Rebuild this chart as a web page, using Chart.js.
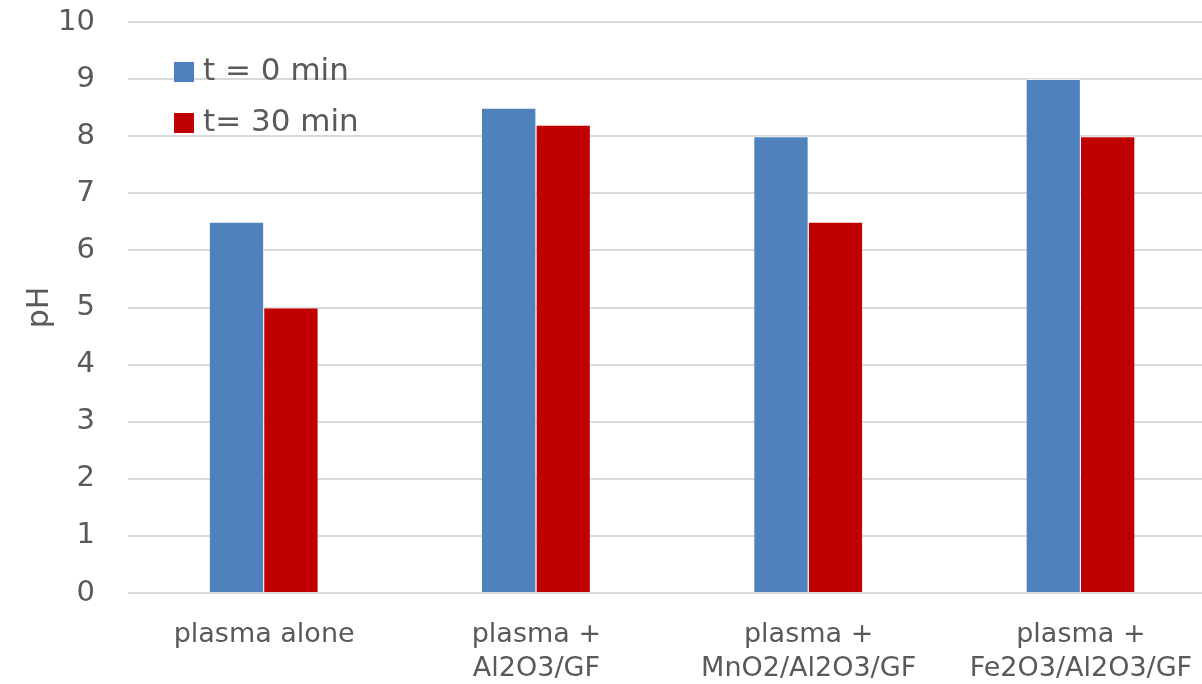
<!DOCTYPE html>
<html>
<head>
<meta charset="utf-8">
<script src="https://cdn.jsdelivr.net/npm/chart.js@4/dist/chart.umd.min.js"></script>
<style>
html,body{margin:0;padding:0;background:#fff;overflow:hidden;width:1202px;height:684px;}
#wrap{position:absolute;left:0;top:0;width:1217px;height:684px;}
</style>
</head>
<body>
<div id="wrap"><canvas id="c" width="1217" height="684"></canvas></div>
<script>
const categories = [
  ["plasma alone"],
  ["plasma +", "Al2O3/GF"],
  ["plasma +", "MnO2/Al2O3/GF"],
  ["plasma +", "Fe2O3/Al2O3/GF"]
];
const seriesNames = ["t = 0 min", "t= 30 min"];
const t0Values = [6.5, 8.5, 8.0, 9.0];
const t30Values = [5.0, 8.2, 6.5, 8.0];
const yTicks = [0, 1, 2, 3, 4, 5, 6, 7, 8, 9, 10];
const colors = ["#4F81BD", "#C00000"];
const FONT = "'DejaVu Sans', sans-serif";
const TXT = "#595959";

const legendPlugin = {
  id: 'insideLegend',
  afterDraw(chart) {
    const ctx = chart.ctx;
    ctx.save();
    ctx.font = "31px " + FONT;
    ctx.textBaseline = 'middle';
    ctx.textAlign = 'left';
    chart.data.datasets.forEach((ds, i) => {
      const y = 72 + i * 51;
      ctx.fillStyle = ds.backgroundColor;
      ctx.fillRect(174, y - 10, 20, 20);
      ctx.fillStyle = TXT;
      ctx.fillText(ds.label, 203, y);
    });
    ctx.restore();
  }
};

new Chart(document.getElementById('c'), {
  type: 'bar',
  data: {
    labels: categories,
    datasets: [
      { label: seriesNames[0], data: t0Values, backgroundColor: colors[0], borderColor: 'rgba(255,255,255,0.6)', borderWidth: {left:0,right:1,top:1,bottom:0} },
      { label: seriesNames[1], data: t30Values, backgroundColor: colors[1], borderColor: 'rgba(255,255,255,0.6)', borderWidth: {left:0,right:1,top:1,bottom:0} }
    ]
  },
  options: {
    responsive: false,
    animation: false,
    layout: { padding: { top: 22, right: 0, bottom: 0, left: 0 } },
    plugins: { legend: { display: false }, tooltip: { enabled: false } },
    datasets: { bar: { categoryPercentage: 0.4, barPercentage: 1.0 } },
    scales: {
      x: {
        grid: { display: false, drawTicks: false },
        border: { display: false },
        ticks: { color: TXT, font: { family: FONT, size: 27, lineHeight: 1.25 }, padding: 25, maxRotation: 0, autoSkip: false },
        afterFit(s) { s.height = 91; s.paddingLeft = 0; s.paddingRight = 0; }
      },
      y: {
        min: 0, max: 10,
        afterBuildTicks(s) { s.ticks = yTicks.map(v => ({ value: v })); },
        grid: { color: '#D9D9D9', lineWidth: 2, drawTicks: false },
        border: { display: false },
        ticks: { color: TXT, font: { family: FONT, size: 29 }, padding: 33 },
        title: { display: true, text: 'pH', color: TXT, font: { family: FONT, size: 30 }, padding: { top: 22, bottom: 0 } },
        afterFit(s) { s.width = 128; s.paddingTop = 0; s.paddingBottom = 0; }
      }
    }
  },
  plugins: [legendPlugin]
});
</script>
</body>
</html>
